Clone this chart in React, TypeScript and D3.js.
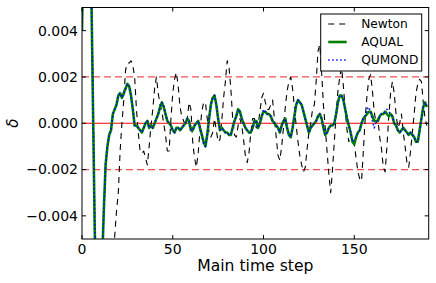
import * as d3 from 'd3';

const W = 436;
const H = 283;

// Main time step index 0..190
const STEPS = d3.range(0, 191);

// delta for the Newtonian run (black dashed)
const NEWTON = [
  0.0040, 0.0090, 0.0120, 0.0115, 0.0100, 0.0070, 0.0020, -0.0040, -0.0090, -0.0130,
  -0.0150, -0.0155, -0.0150, -0.0135, -0.0115, -0.0095, -0.0075, -0.0060, -0.0049, -0.0038,
  -0.0030, -0.0012, 0.0000, 0.0010, 0.0023, 0.0026, 0.0026, 0.0027, 0.0025, 0.0020,
  0.0006, -0.0004, -0.0012, -0.0013, -0.0012, -0.0015, -0.0018, -0.0010, -0.0001, 0.0006,
  0.0015, 0.0020, 0.0013, 0.0008, 0.0005, 0.0000, -0.0005, -0.0012, -0.0012, 0.0002,
  0.0013, 0.0019, 0.0022, 0.0016, 0.0007, 0.0003, 0.0001, -0.0001, 0.0002, 0.0009,
  0.0006, -0.0008, -0.0015, -0.0019, -0.0013, -0.0003, 0.0005, 0.0009, 0.0009, 0.0002,
  -0.0004, -0.0006, -0.0004, 0.0002, -0.0003, -0.0008, -0.0007, 0.0001, 0.0011, 0.0018,
  0.0027, 0.0024, 0.0015, 0.0002, -0.0005, -0.0006, -0.0001, 0.0002, -0.0001, -0.0007,
  -0.0014, -0.0017, -0.0013, -0.0004, 0.0002, 0.0002, -0.0002, -0.0001, 0.0005, 0.0011,
  0.0013, 0.0009, 0.0006, 0.0006, 0.0008, 0.0010, 0.0002, -0.0006, -0.0014, -0.0016,
  -0.0010, -0.0002, 0.0007, 0.0014, 0.0018, 0.0020, 0.0015, 0.0007, -0.0001, -0.0008,
  -0.0014, -0.0018, -0.0021, -0.0019, -0.0011, -0.0004, 0.0000, 0.0006, 0.0008, 0.0018,
  0.0031, 0.0034, 0.0022, 0.0008, -0.0002, -0.0012, -0.0022, -0.0030, -0.0020, -0.0008,
  0.0004, 0.0014, 0.0020, 0.0024, 0.0016, 0.0006, -0.0003, -0.0008, -0.0004, -0.0007,
  -0.0009, -0.0015, -0.0021, -0.0024, -0.0025, -0.0012, 0.0002, 0.0012, 0.0019, 0.0021,
  0.0014, 0.0005, 0.0000, 0.0002, -0.0006, -0.0011, -0.0019, -0.0021, -0.0010, 0.0003,
  0.0013, 0.0018, 0.0013, 0.0004, -0.0002, 0.0000, 0.0004, -0.0004, -0.0010, -0.0017,
  -0.0019, -0.0012, -0.0004, 0.0004, 0.0013, 0.0017, 0.0019, 0.0018, 0.0009, 0.0002,
  -0.0001,
];

// AQUAL (green solid)
const AQUAL = [
  0.0040, 0.0090, 0.0120, 0.0115, 0.0100, 0.0065, 0.0010, -0.0045, -0.0085, -0.0105,
  -0.0095, -0.0062, -0.0038, -0.0018, -0.0010, -0.0005, -0.0003, 0.0004, 0.0006, 0.0008,
  0.0012, 0.0013, 0.0011, 0.0013, 0.0015, 0.0017, 0.0016, 0.0012, 0.0006, -0.0001,
  -0.0001, -0.0002, -0.0003, -0.0004, -0.0002, 0.0000, 0.0001, -0.0002, -0.0001, -0.0002,
  0.0000, 0.0002, 0.0004, 0.0007, 0.0009, 0.0007, 0.0004, 0.0001, 0.0000, -0.0001,
  -0.0003, -0.0004, -0.0002, -0.0002, -0.0003, -0.0002, -0.0001, 0.0000, 0.0002, 0.0001,
  -0.0003, -0.0003, -0.0001, 0.0000, 0.0001, -0.0002, -0.0005, -0.0008, -0.0010, -0.0005,
  0.0002, 0.0008, 0.0011, 0.0012, 0.0008, 0.0002, -0.0003, -0.0002, -0.0003, -0.0004,
  -0.0004, -0.0005, -0.0005, -0.0002, 0.0001, 0.0003, 0.0006, 0.0005, 0.0002, 0.0000,
  -0.0002, -0.0003, -0.0004, -0.0004, -0.0002, 0.0001, 0.0001, -0.0002, 0.0000, 0.0003,
  0.0005, 0.0005, 0.0004, 0.0004, 0.0003, 0.0001, 0.0000, -0.0001, -0.0002, -0.0004,
  -0.0001, 0.0001, 0.0002, -0.0002, -0.0005, -0.0006, -0.0002, 0.0003, 0.0008, 0.0010,
  0.0009, 0.0008, 0.0005, 0.0002, -0.0001, -0.0004, -0.0002, -0.0001, 0.0000, 0.0001,
  0.0003, 0.0004, 0.0002, -0.0002, -0.0005, -0.0004, -0.0002, -0.0001, -0.0001, 0.0000,
  0.0004, 0.0009, 0.0012, 0.0012, 0.0010, 0.0006, 0.0002, -0.0001, -0.0004, -0.0008,
  -0.0009, -0.0006, -0.0004, -0.0003, 0.0000, 0.0002, 0.0003, 0.0004, 0.0005, 0.0005,
  0.0003, 0.0001, 0.0001, 0.0001, 0.0003, 0.0004, 0.0004, 0.0005, 0.0004, 0.0003,
  0.0004, 0.0003, 0.0000, -0.0001, -0.0003, -0.0004, -0.0003, -0.0002, -0.0003, -0.0004,
  -0.0005, -0.0004, -0.0005, -0.0006, -0.0008, -0.0008, -0.0003, 0.0002, 0.0007, 0.0009,
  0.0007,
];

// QUMOND (blue dotted), almost on top of AQUAL
const QUMOND = [
  0.0040, 0.0090, 0.0120, 0.0115, 0.0100, 0.0065, 0.0010, -0.0045, -0.0085, -0.0105,
  -0.0095, -0.0062, -0.0038, -0.0018, -0.0010, -0.0005, -0.0003, 0.0004, 0.0006, 0.0008,
  0.0012, 0.0013, 0.0011, 0.0013, 0.0015, 0.0017, 0.0016, 0.0012, 0.0006, -0.0001,
  -0.0001, -0.0002, -0.0003, -0.0004, -0.0002, 0.0000, 0.0001, -0.0002, -0.0001, -0.0002,
  0.0000, 0.0002, 0.0004, 0.0007, 0.0009, 0.0008, 0.0004, 0.0001, 0.0000, -0.0001,
  -0.0003, -0.0004, -0.0002, -0.0002, -0.0003, -0.0002, -0.0001, 0.0000, 0.0002, 0.0001,
  -0.0003, -0.0003, -0.0001, 0.0000, 0.0001, -0.0002, -0.0005, -0.0009, -0.0010, -0.0005,
  0.0002, 0.0008, 0.0011, 0.0012, 0.0008, 0.0002, -0.0003, -0.0002, -0.0003, -0.0004,
  -0.0004, -0.0005, -0.0005, -0.0002, 0.0001, 0.0003, 0.0006, 0.0005, 0.0002, 0.0000,
  -0.0002, -0.0003, -0.0004, -0.0004, -0.0002, 0.0001, 0.0001, -0.0002, 0.0000, 0.0003,
  0.0006, 0.0005, 0.0004, 0.0004, 0.0003, 0.0001, 0.0000, -0.0001, -0.0002, -0.0004,
  -0.0001, 0.0001, 0.0002, -0.0002, -0.0005, -0.0006, -0.0002, 0.0003, 0.0008, 0.0010,
  0.0009, 0.0008, 0.0005, 0.0002, -0.0001, -0.0004, -0.0002, -0.0001, 0.0000, 0.0001,
  0.0003, 0.0004, 0.0002, -0.0001, -0.0005, -0.0004, -0.0002, -0.0001, -0.0001, 0.0000,
  0.0004, 0.0009, 0.0012, 0.0012, 0.0010, 0.0006, 0.0002, -0.0001, -0.0004, -0.0008,
  -0.0007, -0.0006, -0.0004, -0.0003, 0.0000, 0.0002, 0.0003, 0.0006, 0.0007, 0.0005,
  0.0001, -0.0002, 0.0001, 0.0001, 0.0003, 0.0004, 0.0004, 0.0005, 0.0006, 0.0005,
  0.0004, 0.0003, 0.0000, -0.0001, -0.0003, -0.0004, -0.0003, -0.0002, -0.0003, -0.0004,
  -0.0005, -0.0004, -0.0005, -0.0006, -0.0008, -0.0008, -0.0003, 0.0002, 0.0007, 0.0009,
  0.0007,
];

const X_TICKS = [0, 50, 100, 150];
const Y_TICKS = [-0.004, -0.002, 0, 0.002, 0.004];
const BANDS = [-0.002, 0.002];
const SERIES_NAMES = ['Newton', 'AQUAL', 'QUMOND'];

const FONT = 'DejaVu Sans, sans-serif';

export default function App() {
  const margin = { top: 7.5, right: 7.3, bottom: 44, left: 82 };
  const x = d3.scaleLinear().domain([0, 191]).range([margin.left, W - margin.right]);
  const y = d3.scaleLinear().domain([-0.005, 0.005]).range([H - margin.bottom, margin.top]);
  const x0 = x.range()[0], x1 = x.range()[1];
  const y0 = y.range()[0], y1 = y.range()[1];

  const line = d3.line<number>()
    .x((_, i) => x(STEPS[i]))
    .y((d) => y(d));

  const fmt = (v: number) => d3.format('.3f')(v).replace('-', '\u2212');

  const styles = [
    { stroke: '#000', width: 1.1, dash: '6,5' },
    { stroke: '#008000', width: 2.6, dash: undefined },
    { stroke: '#0000ff', width: 1.6, dash: '1.5,2.5' },
  ];
  const series = [NEWTON, AQUAL, QUMOND];

  return (
    <svg width={W} height={H} style={{ position: 'absolute', left: 0, top: 0, background: '#fff' }}
      fontFamily={FONT}>
      <defs>
        <clipPath id="plot">
          <rect x={x0} y={y1} width={x1 - x0} height={y0 - y1} />
        </clipPath>
      </defs>
      <rect x={0} y={0} width={W} height={H} fill="#fff" />

      <g clipPath="url(#plot)">
        {BANDS.map((b) => (
          <line key={b} x1={x0} x2={x1} y1={y(b)} y2={y(b)} stroke="#f05050"
            strokeWidth={1.3} strokeDasharray="7,4" />
        ))}
        <line x1={x0} x2={x1} y1={y(0)} y2={y(0)} stroke="#ff0000" strokeWidth={1.2} />
        {series.map((s, i) => (
          <path key={i} d={line(s) || ''} fill="none" stroke={styles[i].stroke}
            strokeWidth={styles[i].width} strokeDasharray={styles[i].dash}
            strokeLinejoin="round" />
        ))}
      </g>

      {/* ticks, inward on all four sides */}
      {X_TICKS.map((t) => (
        <g key={t}>
          <line x1={x(t)} x2={x(t)} y1={y0} y2={y0 - 4} stroke="#000" />
          <line x1={x(t)} x2={x(t)} y1={y1} y2={y1 + 4} stroke="#000" />
          <text x={x(t)} y={y0 + 15} textAnchor="middle" fontSize={14}>{t}</text>
        </g>
      ))}
      {Y_TICKS.map((t) => (
        <g key={t}>
          <line x1={x0} x2={x0 + 4} y1={y(t)} y2={y(t)} stroke="#000" />
          <line x1={x1} x2={x1 - 4} y1={y(t)} y2={y(t)} stroke="#000" />
          <text x={x0 - 4} y={y(t)} dy="0.35em" textAnchor="end" fontSize={14}>{fmt(t)}</text>
        </g>
      ))}

      <rect x={x0} y={y1} width={x1 - x0} height={y0 - y1} fill="none" stroke="#000" strokeWidth={1} />

      <text x={(x0 + x1) / 2} y={271} textAnchor="middle" fontSize={15.6}>Main time step</text>
      <text transform={`translate(18, ${y(0)}) rotate(-90)`} textAnchor="middle" fontSize={15}
        fontStyle="italic">δ</text>

      {/* legend */}
      <g transform="translate(320.7, 14)">
        <rect x={0} y={0} width={101} height={57} fill="#fff" stroke="#000" strokeWidth={1} />
        {SERIES_NAMES.map((name, i) => (
          <g key={name} transform={`translate(0, ${10 + i * 18})`}>
            <line x1={7.5} x2={26} y1={0} y2={0} stroke={styles[i].stroke}
              strokeWidth={styles[i].width} strokeDasharray={styles[i].dash} />
            <text x={40.5} y={0} dy="0.36em" fontSize={12.2}>{name}</text>
          </g>
        ))}
      </g>
    </svg>
  );
}
